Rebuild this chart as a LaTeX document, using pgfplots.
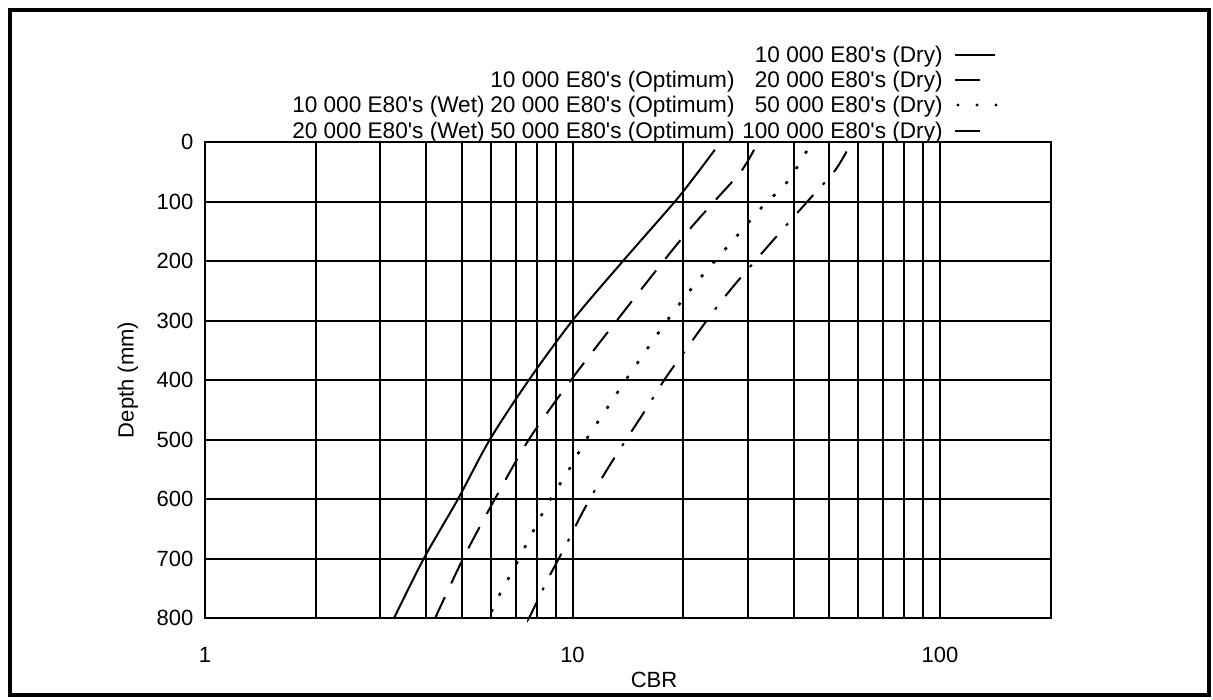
\documentclass[border=0pt]{standalone}
\usepackage{fontspec}
\setmainfont{Liberation Sans}
\usepackage{pgfplots}
\pgfplotsset{compat=1.18}
\newcommand{\q}{\textquotesingle}
\begin{document}
\fontsize{11}{13}\selectfont
\begin{tikzpicture}
\useasboundingbox (0pt,0pt) rectangle (606.5pt,350pt);
\draw[line width=1.6pt] (5pt,2.5pt) rectangle (604.5pt,345pt);
\begin{axis}[
  at={(102.5pt,41pt)}, anchor=south west,
  scale only axis, width=422.8pt, height=238pt,
  xmode=log, xmin=1, xmax=200, ymin=0, ymax=800, y dir=reverse,
  xtick={1,10,100}, xticklabels={1,10,100},
  minor xtick={2,3,4,5,6,7,8,9,20,30,40,50,60,70,80,90},
  ytick={0,100,200,300,400,500,600,700,800},
  yticklabels={0,100,200,300,400,500,600,700,800},
  /pgf/number format/assume math mode=true,
  grid=both,
  major grid style={black, line width=1pt},
  minor grid style={black, line width=1pt},
  axis line style={line width=1pt},
  tick style={draw=none},
  xticklabel style={yshift=-10.8pt},
  yticklabel style={xshift=-2pt},
  xlabel={CBR}, ylabel={Depth (mm)},
  xlabel style={at={(axis description cs:0.531,-0.130)}, anchor=center},
  ylabel style={at={(axis description cs:-0.091,0.5)}, anchor=center},
  clip=false,
]
% 10 000 E80's (Dry)
\addplot[black, line width=1pt, smooth] coordinates {
 (24.4,13) (22.0,50) (19.0,100) (13.72,200) (10.0,300) (7.61,400) (5.96,500) (4.88,600) (3.94,700) (3.27,800)};
% 20 000 E80's (Dry)
\addplot[black, line width=1pt, smooth, dash pattern=on 12pt off 7.5pt] coordinates {
 (31.2,13) (28.7,50) (24.3,100) (20.6,150) (17.7,200) (13.2,300) (9.91,400) (7.61,500) (6.15,600) (5.04,700) (4.23,800)};
% 50 000 E80's (Dry)
\addplot[black, line width=1.3pt, smooth, dash pattern=on 1.5pt off 7.5pt] coordinates {
 (43.4,15) (38.4,67) (32.6,111) (28.1,157) (24.4,200) (20.9,249) (18.2,298) (16.0,347) (14.0,399) (12.4,448) (10.9,500) (9.75,552) (8.6,606) (7.74,659) (6.98,713) (6.24,768) (5.97,795) (5.9,800)};
% 100 000 E80's (Dry)
\addplot[black, line width=1pt, smooth, dash pattern=on 12pt off 7pt on 1.5pt off 7pt] coordinates {
 (55.7,16) (51.5,50) (44.3,95) (37.8,143) (32.0,194) (27.1,246) (23.7,292) (20.4,348) (17.9,397) (15.7,453) (13.7,509) (12.1,562) (10.7,620) (9.55,680) (8.6,733) (7.69,795) (7.6,800)};
\end{axis}
% legend
\begingroup\fontsize{11.3}{13}\selectfont
\node[anchor=base east, inner sep=0] at (471.5pt,318.5pt) {10 000 E80\q s (Dry)};
\node[anchor=base east, inner sep=0] at (367.5pt,306pt) {10 000 E80\q s (Optimum)};
\node[anchor=base east, inner sep=0] at (471.5pt,306pt) {20 000 E80\q s (Dry)};
\node[anchor=base east, inner sep=0] at (242.5pt,293.5pt) {10 000 E80\q s (Wet)};
\node[anchor=base east, inner sep=0] at (367.5pt,293.5pt) {20 000 E80\q s (Optimum)};
\node[anchor=base east, inner sep=0] at (471.5pt,293.5pt) {50 000 E80\q s (Dry)};
\node[anchor=base east, inner sep=0] at (242.5pt,280.5pt) {20 000 E80\q s (Wet)};
\node[anchor=base east, inner sep=0] at (367.5pt,280.5pt) {50 000 E80\q s (Optimum)};
\node[anchor=base east, inner sep=0] at (471.5pt,280.5pt) {100 000 E80\q s (Dry)};
\endgroup
\draw[line width=0.9pt] (477.5pt,322.5pt) -- (497.5pt,322.5pt);
\draw[line width=0.9pt] (477.5pt,310pt) -- (490pt,310pt);
\fill (479pt,297.5pt) circle (0.8pt) (488.5pt,297.5pt) circle (0.8pt) (498pt,297.5pt) circle (0.8pt);
\draw[line width=0.9pt] (477.5pt,284.5pt) -- (490pt,284.5pt);
\end{tikzpicture}
\end{document}
